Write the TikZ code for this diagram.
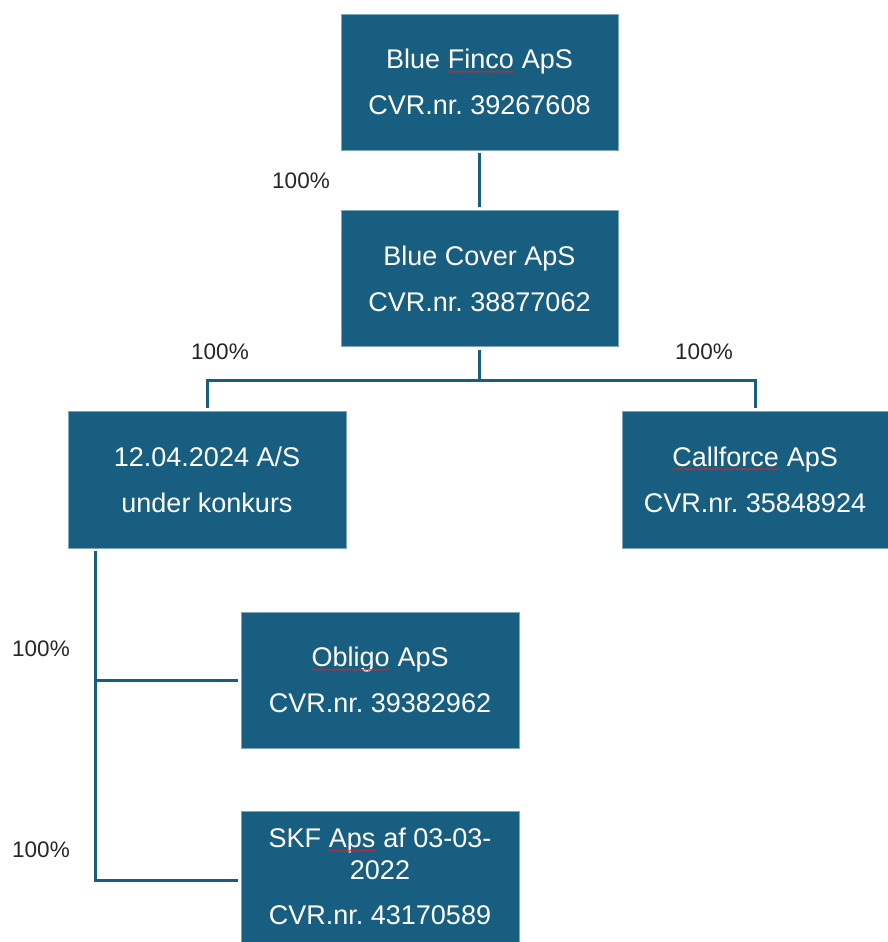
\documentclass[tikz,border=0pt]{standalone}
\usepackage{fontspec}
\setmainfont{Liberation Sans}
\usetikzlibrary{positioning,decorations.pathmorphing}
\frenchspacing

\definecolor{boxblue}{RGB}{24,94,128}
\definecolor{squigred}{RGB}{220,35,35}

\tikzset{
  company/.style={fill=boxblue, draw=boxblue!55!white, line width=0.6pt, text=white,
    minimum width=277pt, minimum height=136pt, inner sep=0pt, align=center,
    font=\fontsize{27}{46}\selectfont},
  link/.style={draw=boxblue, line width=3pt, shorten <=3pt, shorten >=3pt},
  share/.style={text=black!85, font=\fontsize{22.5}{26}\selectfont},
  wavy/.style={draw=squigred, line width=0.6pt, decorate,
    decoration={snake, amplitude=0.8pt, segment length=2.6pt}},
}

% red wavy underline (spell check marks)
\newcommand\squig[1]{\tikz[baseline=(w.base), x=1pt, y=1pt]{%
  \node[inner sep=0pt, outer sep=0pt, fill=none, draw=none, text=white,
    minimum width=0pt, minimum height=0pt] (w) {#1};
  \path[wavy] ([yshift=-3pt]w.base west) -- ([yshift=-3pt]w.base east);}}

\begin{document}
\begin{tikzpicture}[x=1pt, y=-1pt]
  \useasboundingbox (0,0) rectangle (888,942);

  % Companies
  \node[company] (finco) at (479.5,82) {Blue \squig{Finco} ApS\\CVR.nr. 39267608};
  \node[company, below=60pt of finco] (cover) {Blue Cover ApS\\CVR.nr. 38877062};
  \node[company, minimum width=278pt, minimum height=137pt] (konkurs) at (207,479.5) {12.04.2024 A/S\\under konkurs};
  \node[company, minimum width=266pt, minimum height=137pt] (callforce) at (755,479.5) {\squig{Callforce} ApS\\CVR.nr. 35848924};
  \node[company, minimum width=278pt] (obligo) at (380,680) {\squig{Obligo} ApS\\CVR.nr. 39382962};
  \node[company, minimum width=278pt, minimum height=131pt, font=\fontsize{27}{32}\selectfont] (skf) at (380,876.5)
    {SKF \squig{Aps} af 03-03-\\2022\\[13pt]CVR.nr. 43170589};

  % Ownership lines
  \coordinate (bus) at (479.5,380);
  \coordinate (trunk) at (95,0);
  \draw[link] (finco) -- (cover);
  \draw[link] (cover.south) -- (bus) -| (konkurs.north);
  \draw[link] (cover.south) -- (bus) -| (callforce.north);
  \draw[link] (konkurs.south -| trunk) |- (obligo.west);
  \draw[link] (konkurs.south -| trunk) |- ([yshift=-3.5pt]skf.west);

  % Shares
  \node[share] (pctcover) at (301,181) {100\%};
  \node[share] (pctkonkurs) at (220,352) {100\%};
  \node[share] (pctcall) at (704,352) {100\%};
  \node[share] (pctobligo) at (41,649) {100\%};
  \node[share] (pctskf) at (41,850) {100\%};
\end{tikzpicture}
\end{document}
